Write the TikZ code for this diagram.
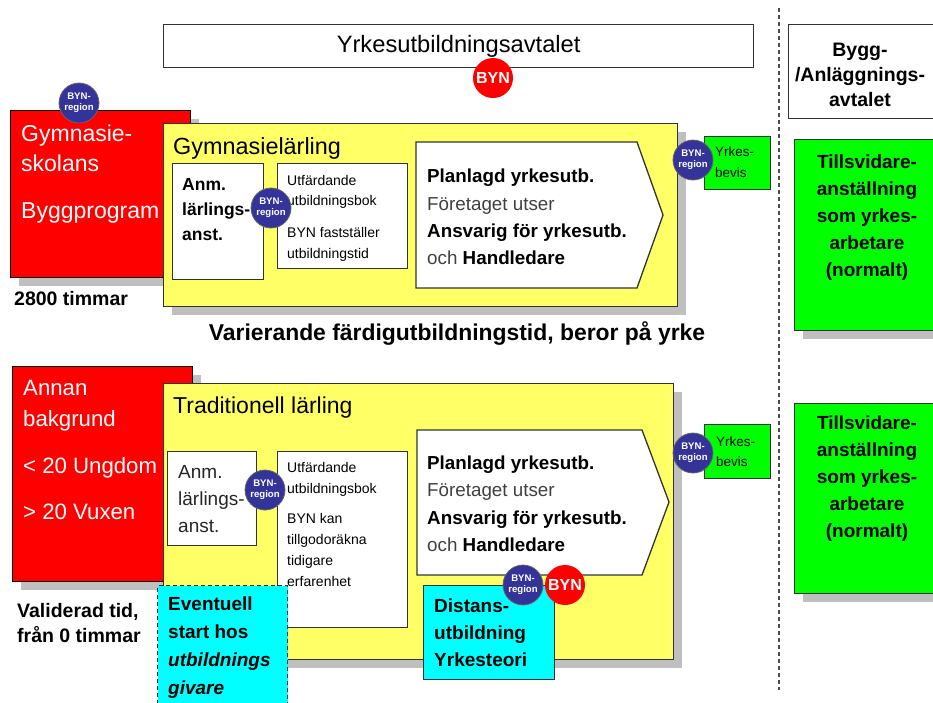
\documentclass[tikz,border=0pt]{standalone}
\usepackage{fontspec}
\setmainfont{Liberation Sans}
\usetikzlibrary{shadows}

\definecolor{bynred}{RGB}{255,0,0}
\definecolor{bynyellow}{RGB}{255,255,102}
\definecolor{byngreen}{RGB}{0,255,0}
\definecolor{byncyan}{RGB}{0,255,255}
\definecolor{bynblue}{RGB}{51,51,153}
\newcommand{\sz}[2]{\fontsize{#1}{#2}\selectfont}

\tikzset{
  box/.style={draw=black!80, line width=1.3pt, anchor=north west, inner sep=0pt},
  shade8/.style={drop shadow={shadow xshift=8pt, shadow yshift=-8pt, fill=black!25, opacity=1}},
  txt/.style={anchor=north west, inner sep=0pt, align=left},
  region/.style={circle, draw=black!60, line width=0.8pt, fill=bynblue, minimum size=40pt,
    inner sep=0pt, text=white, align=center, font=\bfseries\sz{9.6}{11}},
  byn/.style={circle, fill=bynred, minimum size=40pt, inner sep=0pt, text=white,
    font=\bfseries\sz{16}{18}},
}

\begin{document}
\begin{tikzpicture}[x=1pt, y=-1pt]
      \path[use as bounding box] (0,0) rectangle (933,702);
      \fill[white] (0,0) rectangle (933,702);
      \clip (0,0) rectangle (933,702);

      \node[box, minimum width=590pt, minimum height=43pt, font=\sz{23.7}{28}] (avtal) at (163,24) {Yrkesutbildningsavtalet};
      \node[byn] (byn1) at (493,78) {BYN};
      \node[box, minimum width=160pt, minimum height=94pt] (bygg) at (788,24) {};
      \node[anchor=north, align=center, inner sep=0pt, font=\bfseries\sz{19.5}{25}] (byggtxt) at (860,43) {Bygg-\\/Anläggnings-\\avtalet};
      \draw[black!70, line width=1.2pt, dash pattern=on 4pt off 3pt] (779,8) -- (779,690);

      \node[box, shade8, fill=byngreen, minimum width=160pt, minimum height=191pt] (tv1) at (794,139) {};
      \node[anchor=north, align=center, inner sep=0pt, font=\bfseries\sz{19}{27}] (tv1txt) at (867,155) {Tillsvidare-\\anställning\\som yrkes-\\arbetare\\(normalt)};
      \node[box, shade8, fill=byngreen, minimum width=160pt, minimum height=190pt] (tv2) at (794,403) {};
      \node[anchor=north, align=center, inner sep=0pt, font=\bfseries\sz{19}{27}] (tv2txt) at (867,416) {Tillsvidare-\\anställning\\som yrkes-\\arbetare\\(normalt)};

      \node[box, shade8, fill=bynred, draw=black, minimum width=180pt, minimum height=167pt] (gymn) at (10,110) {};
      \node[txt, text=white, font=\sz{23}{30}] (gymntxt) at (21,124.5) {Gymnasie-\\skolans\\[17pt]Byggprogram};
      \node[region] (reg1) at (79,103) {BYN-\\region};
      \node[anchor=base west, inner sep=0pt, font=\bfseries\sz{19.5}{24}] (tim) at (14,305) {2800 timmar};

      \node[box, shade8, fill=bynyellow, minimum width=514pt, minimum height=183pt] (gyl) at (163,123) {};
      \node[anchor=base west, inner sep=0pt, font=\sz{23.4}{28}] (gyltitle) at (173,154) {Gymnasielärling};
      \node[box, fill=white, minimum width=91pt, minimum height=116pt] (anm1) at (172,163) {};
      \node[txt, font=\bfseries\sz{17.5}{25}] (anm1txt) at (182,178.7) {Anm.\\lärlings-\\anst.};
      \node[box, fill=white, minimum width=130pt, minimum height=105pt] (utf1) at (277,163) {};
      \node[txt, font=\sz{14}{20.5}] (utf1txt) at (287,175) {Utfärdande\\utbildningsbok\\[11.5pt]BYN fastställer\\utbildningstid};
      \node[region] (reg2) at (271,208) {BYN-\\region};
      \draw[black!80, line width=1.3pt, fill=white] (416,142) -- (637,142) -- (663,215) -- (637,288) -- (416,288) -- cycle;
      \node[txt, font=\sz{18.8}{27.3}] (plan1) at (427,169) {\textbf{Planlagd yrkesutb.}\\{\color{black!75}Företaget utser}\\\textbf{Ansvarig för yrkesutb.}\\{\color{black!75}och} \textbf{Handledare}};
      \node[box, fill=byngreen, minimum width=66pt, minimum height=53pt] (bev1) at (704,136) {};
      \node[txt, font=\sz{13.5}{21}] (bev1txt) at (715,147) {Yrkes-\\bevis};
      \node[region] (reg3) at (693,160) {BYN-\\region};

      \node[anchor=base, inner sep=0pt, font=\bfseries\sz{22.9}{28}] (var) at (457,340) {Varierande färdigutbildningstid, beror på yrke};

      \node[box, shade8, fill=bynred, draw=black, minimum width=180pt, minimum height=215pt] (annan) at (12,366) {};
      \node[txt, text=white, font=\sz{22.2}{31}] (annantxt) at (23,380.5) {Annan\\bakgrund\\[16pt]< 20 Ungdom\\[15pt]> 20 Vuxen};
      \node[txt, font=\bfseries\sz{19.5}{25}] (valid) at (17,603) {Validerad tid,\\från 0 timmar};

      \node[box, shade8, fill=bynyellow, minimum width=510pt, minimum height=276pt] (trad) at (163,383) {};
      \node[anchor=base west, inner sep=0pt, font=\sz{23}{28}] (tradtitle) at (173,413.5) {Traditionell lärling};
      \node[box, fill=white, minimum width=89pt, minimum height=94pt] (anm2) at (167,451) {};
      \node[txt, text=black!85, font=\sz{19}{27}] (anm2txt) at (178,465) {Anm.\\lärlings-\\anst.};
      \node[box, fill=white, minimum width=130pt, minimum height=176pt] (utf2) at (277,451) {};
      \node[txt, font=\sz{14}{21}] (utf2txt) at (287,462) {Utfärdande\\utbildningsbok\\[9pt]BYN kan\\tillgodoräkna\\tidigare\\erfarenhet};
      \node[region] (reg4) at (265,490) {BYN-\\region};
      \node[box, fill=byncyan, dash pattern=on 4pt off 3pt, minimum width=130pt, minimum height=130pt] (event) at (157,585) {};
      \node[txt, font=\bfseries\sz{19}{28}] (eventtxt) at (168,597) {Eventuell\\start hos\\\textit{utbildnings}\\\textit{givare}};
      \draw[black!80, line width=1.3pt, fill=white] (417,430) -- (642,430) -- (669,502) -- (642,575) -- (417,575) -- cycle;
      \node[txt, font=\sz{18.8}{27.5}] (plan2) at (427,455.5) {\textbf{Planlagd yrkesutb.}\\{\color{black!75}Företaget utser}\\\textbf{Ansvarig för yrkesutb.}\\{\color{black!75}och} \textbf{Handledare}};
      \node[box, fill=byngreen, minimum width=66pt, minimum height=54pt] (bev2) at (704,424) {};
      \node[txt, font=\sz{13.5}{20}] (bev2txt) at (716,437) {Yrkes-\\bevis};
      \node[region] (reg5) at (693,453) {BYN-\\region};
      \node[box, fill=byncyan, minimum width=131pt, minimum height=94pt] (dist) at (423,585) {};
      \node[txt, font=\bfseries\sz{19}{27}] (disttxt) at (434,599) {Distans-\\utbildning\\Yrkesteori};
      \node[region] (reg6) at (523,585) {BYN-\\region};
      \node[byn] (byn2) at (565,585) {BYN};
    \end{tikzpicture}
\end{document}
